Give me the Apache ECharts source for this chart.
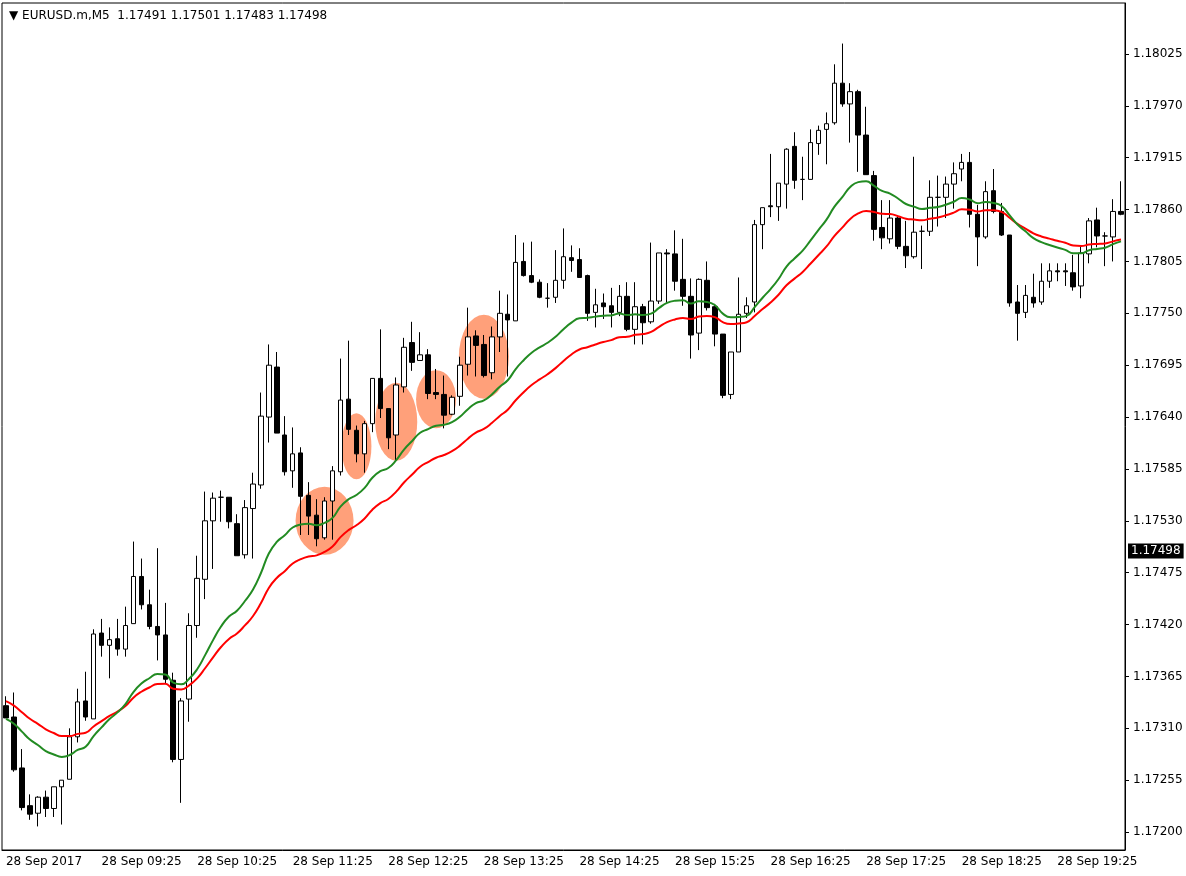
<!DOCTYPE html>
<html>
<head>
<meta charset="utf-8">
<script src="https://cdn.jsdelivr.net/npm/echarts@6/dist/echarts.min.js"></script>
<style>
  html, body { margin: 0; padding: 0; background: #fff; }
  #chart { width: 1186px; height: 876px; }
</style>
</head>
<body>
<div id="chart"></div>
<script>
// prices in points (1e-5)
var opens = [117334,117322,117268,117228,117220,117237,117225,117248,117256,117301,
  117339,117320,117411,117398,117405,117394,117421,117471,117441,117418,
  117409,117361,117277,117341,117419,117468,117530,117555,117555,117527,
  117494,117543,117568,117640,117693,117621,117583,117602,117557,117536,
  117512,117551,117582,117659,117626,117601,117633,117681,117649,117621,
  117672,117719,117700,117706,117666,117664,117643,117662,117696,117726,
  117717,117687,117725,117749,117742,117805,117790,117783,117766,117767,
  117785,117809,117807,117790,117751,117761,117758,117751,117768,117733,
  117757,117741,117763,117814,117813,117786,117768,117729,117785,117757,
  117728,117664,117709,117750,117762,117844,117864,117863,117887,117927,
  117892,117892,117930,117945,117952,117994,117972,117985,117939,117896,
  117841,117829,117851,117821,117810,117837,117837,117873,117873,117887,
  117903,117910,117855,117831,117880,117858,117833,117762,117751,117767,
  117762,117784,117795,117795,117793,117779,117813,117849,117832,117831,117858];
var closes = [117321,117266,117226,117219,117237,117225,117248,117255,117301,117338,
  117322,117410,117398,117404,117394,117419,117471,117441,117418,117409,
  117362,117277,117339,117419,117469,117530,117554,117555,117529,117493,
  117544,117569,117641,117695,117623,117582,117601,117556,117535,117511,
  117551,117583,117658,117627,117601,117633,117681,117649,117618,117674,
  117714,117698,117706,117665,117664,117642,117661,117695,117725,117716,
  117684,117725,117750,117743,117804,117790,117783,117767,117766,117785,
  117810,117806,117788,117750,117759,117757,117751,117768,117733,117757,
  117740,117763,117814,117813,117784,117768,117727,117786,117756,117728,
  117663,117709,117749,117758,117844,117862,117863,117888,117924,117891,
  117892,117931,117944,117951,117994,117972,117985,117939,117897,117839,
  117830,117851,117821,117811,117836,117837,117873,117873,117887,117898,
  117910,117855,117831,117879,117858,117833,117761,117750,117769,117761,
  117784,117795,117794,117794,117778,117814,117848,117832,117832,117858,117855];
var lows = [117321,117264,117223,117213,117206,117216,117216,117208,117256,117295,
  117318,117320,117386,117363,117387,117386,117421,117436,117415,117382,
  117358,117274,117231,117317,117406,117447,117479,117529,117522,117493,
  117490,117490,117564,117613,117623,117578,117565,117515,117515,117503,
  117510,117510,117578,117621,117592,117581,117624,117639,117606,117594,
  117666,117689,117700,117659,117659,117628,117642,117652,117684,117683,
  117682,117680,117709,117683,117742,117789,117782,117766,117756,117761,
  117776,117794,117788,117742,117735,117744,117735,117747,117731,117717,
  117717,117739,117760,117761,117774,117758,117702,117711,117753,117715,
  117660,117659,117709,117745,117751,117818,117852,117848,117861,117882,
  117870,117892,117918,117908,117950,117969,117931,117900,117897,117827,
  117818,117824,117818,117798,117808,117797,117832,117842,117851,117861,
  117890,117841,117800,117829,117856,117832,117757,117721,117745,117756,
  117759,117777,117784,117779,117774,117766,117803,117820,117800,117805,117854];
var highs = [117344,117348,117288,117240,117238,117244,117248,117255,117310,117352,
  117370,117415,117426,117417,117426,117439,117508,117490,117457,117501,
  117443,117369,117342,117432,117493,117561,117560,117562,117555,117537,
  117552,117581,117666,117717,117709,117641,117629,117608,117571,117553,
  117555,117588,117702,117721,117631,117636,117681,117733,117643,117682,
  117724,117741,117730,117712,117691,117684,117663,117704,117756,117732,
  117727,117736,117774,117770,117833,117825,117826,117786,117782,117817,
  117840,117822,117819,117791,117776,117771,117777,117780,117783,117783,
  117760,117825,117814,117818,117838,117829,117787,117787,117805,117760,
  117728,117709,117788,117767,117849,117862,117919,117888,117925,117942,
  117916,117945,117949,117963,118014,118036,117994,117987,117969,117901,
  117870,117870,117854,117848,117916,117843,117891,117896,117895,117910,
  117919,117921,117865,117890,117903,117867,117833,117780,117780,117792,
  117803,117803,117803,117803,117812,117822,117851,117862,117836,117871,117890];

var yTicks = [1.17200,1.17255,1.17310,1.17365,1.17420,1.17475,1.17530,1.17585,1.17640,
  1.17695,1.17750,1.17805,1.17860,1.17915,1.17970,1.18025];
var lastPrice = 1.17498;
var fastSeed = 1.17320, slowSeed = 1.17340;   // line start values
var fastPeriod = 20, slowPeriod = 30;
// highlighted zones: [candle index, price]
var zones = [[40, 1.17530], [44, 1.17609], [49, 1.17635], [54, 1.17659], [60, 1.17704]];
var zoneSizes = [[58, 68], [30, 66], [42, 78], [40, 58], [50, 84]];

var categories = [];
for (var i = 0; i < opens.length; i++) {
  var m = 8 * 60 + 25 + i * 5;
  var hh = Math.floor(m / 60), mm = m % 60;
  categories.push((hh < 10 ? '0' : '') + hh + ':' + (mm < 10 ? '0' : '') + mm);
}
function px(v) { return v / 100000; }
var candles = opens.map(function (o, i) {
  return [px(o), px(closes[i]), px(lows[i]), px(highs[i])];
});
function ema(seed, n) {
  var k = 2 / (n + 1), prev = seed, out = [];
  closes.forEach(function (c) { prev = prev + k * (px(c) - prev); out.push(+prev.toFixed(6)); });
  return out;
}

var chart = echarts.init(document.getElementById('chart'));
var font = 'DejaVu Sans';
chart.setOption({
  animation: false,
  title: {
    text: '▼ EURUSD.m,M5  1.17491 1.17501 1.17483 1.17498',
    left: 4, top: 5,
    textStyle: { fontFamily: font, fontSize: 12, fontWeight: 'normal', color: '#000' }
  },
  grid: { left: 2, right: 61, top: 3, bottom: 26, show: true, borderColor: '#000', borderWidth: 1 },
  xAxis: {
    type: 'category', data: categories, boundaryGap: true,
    axisLine: { lineStyle: { color: '#000' } },
    axisTick: { interval: 11, alignWithLabel: true, length: 4, lineStyle: { color: '#000' } },
    axisLabel: {
      interval: 11, align: 'left', margin: 6, color: '#000', fontFamily: font, fontSize: 12,
      formatter: function (v, idx) { return idx === 0 ? '28 Sep 2017' : '28 Sep ' + v; }
    },
    splitLine: { show: false }
  },
  yAxis: {
    type: 'value', position: 'right', scale: true, min: 1.17181, max: 1.18079,
    axisLine: { show: true, lineStyle: { color: '#000' } },
    axisTick: { show: true, customValues: yTicks, length: 4, lineStyle: { color: '#000' } },
    axisLabel: {
      customValues: yTicks, color: '#000', fontFamily: font, fontSize: 12, margin: 8,
      formatter: function (v) { return v.toFixed(5); }
    },
    splitLine: { show: false }
  },
  series: [
    {
      type: 'scatter', z: 1, silent: true,
      data: zones.map(function (z, i) { return { value: z, symbolSize: zoneSizes[i] }; }),
      symbol: 'circle', itemStyle: { color: '#FFA07A', opacity: 1 }
    },
    {
      type: 'candlestick', z: 3, data: candles, barWidth: 5,
      itemStyle: { color: '#fff', color0: '#000', borderColor: '#000', borderColor0: '#000', borderWidth: 1 }
    },
    {
      type: 'line', z: 4, data: ema(slowSeed, slowPeriod), showSymbol: false, smooth: true,
      lineStyle: { color: '#FF0000', width: 2 }
    },
    {
      type: 'line', z: 4, data: ema(fastSeed, fastPeriod), showSymbol: false, smooth: true,
      lineStyle: { color: '#228B22', width: 2 }
    }
  ]
});

// current price tag on the price axis
var tagY = chart.convertToPixel({ yAxisIndex: 0 }, lastPrice);
chart.setOption({
  graphic: [{
    type: 'text', x: 1128, y: tagY, z: 100,
    style: {
      text: lastPrice.toFixed(5), fill: '#fff', backgroundColor: '#000',
      font: '12px "DejaVu Sans"', padding: [2, 3, 1, 3], verticalAlign: 'middle'
    }
  }]
});
</script>
</body>
</html>
